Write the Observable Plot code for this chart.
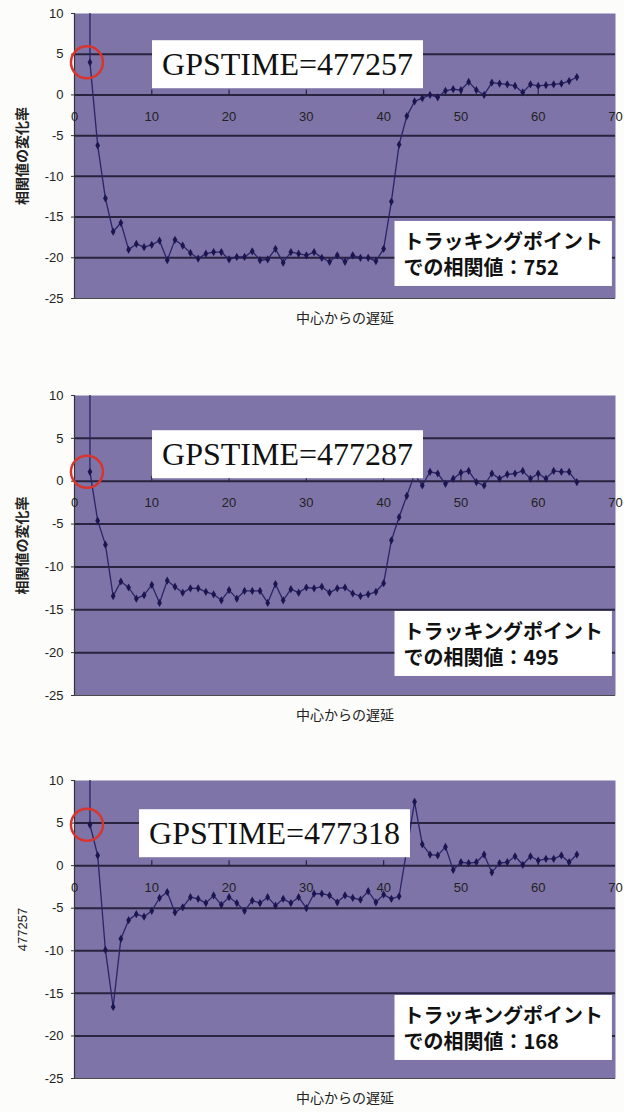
<!DOCTYPE html>
<html>
<head>
<meta charset="utf-8">
<script src="https://cdn.jsdelivr.net/npm/d3@7"></script>
<script src="https://cdn.jsdelivr.net/npm/@observablehq/plot@0.6"></script>
<style>
  body { margin: 0; background: #fcfcfa; width: 624px; }
  #charts svg { display: block; }
</style>
</head>
<body>
<div id="charts"></div>
<script>
// Lag from the centre (x) and the correlation change rate at each lag, one series per GPS time.
const lags = [
   2,  3,  4,  5,  6,  7,  8,  9, 10, 11, 12, 13, 14, 15, 16, 17,
  18, 19, 20, 21, 22, 23, 24, 25, 26, 27, 28, 29, 30, 31, 32, 33,
  34, 35, 36, 37, 38, 39, 40, 41, 42, 43, 44, 45, 46, 47, 48, 49,
  50, 51, 52, 53, 54, 55, 56, 57, 58, 59, 60, 61, 62, 63, 64, 65
];
const change477257 = [
   4.0,  -6.2, -12.7, -16.8, -15.7, -19.0, -18.3, -18.7, -18.4, -17.9, -20.3, -17.8, -18.5, -19.4, -20.1, -19.5,
 -19.3, -19.3, -20.2, -19.9, -19.9, -19.2, -20.3, -20.2, -18.9, -20.6, -19.3, -19.5, -19.7, -19.3, -20.0, -20.5,
 -19.7, -20.5, -19.7, -20.0, -20.0, -20.4, -18.9, -13.1,  -6.1,  -2.6,  -0.8,  -0.4,   0.0,  -0.3,   0.5,   0.7,
   0.6,   1.6,   0.6,   0.0,   1.5,   1.4,   1.3,   1.1,   0.3,   1.3,   1.1,   1.2,   1.3,   1.4,   1.7,   2.2
];
const change477287 = [
   1.1,  -4.6,  -7.4, -13.4, -11.7, -12.4, -13.7, -13.3, -12.1, -14.2, -11.6, -12.3, -13.0, -12.5, -12.5, -12.9,
 -13.2, -13.9, -12.7, -13.7, -12.8, -12.8, -12.8, -14.2, -12.0, -13.9, -12.6, -13.0, -12.4, -12.5, -12.3, -13.0,
 -12.5, -12.4, -13.1, -13.4, -13.2, -12.9, -11.9,  -6.9,  -4.2,  -1.7,   0.8,  -0.5,   1.1,   0.9,  -0.3,   0.3,
   1.0,   1.2,  -0.1,  -0.5,   0.9,   0.3,   0.8,   0.9,   1.2,   0.3,   0.9,   0.3,   1.2,   1.1,   1.1,  -0.1
];
const change477318 = [
   4.8,   1.2,  -9.9, -16.6,  -8.6,  -6.4,  -5.7,  -6.0,  -5.3,  -3.8,  -3.1,  -5.5,  -4.9,  -3.7,  -3.9,  -4.4,
  -3.5,  -4.6,  -3.7,  -4.4,  -5.3,  -4.1,  -4.4,  -3.7,  -4.7,  -3.9,  -4.4,  -3.7,  -5.0,  -3.3,  -3.3,  -3.5,
  -4.3,  -3.5,  -3.8,  -4.0,  -3.0,  -4.3,  -3.4,  -3.9,  -3.6,   1.9,   7.5,   2.5,   1.3,   1.2,   2.2,  -0.5,
   0.4,   0.3,   0.4,   1.3,  -0.8,   0.3,   0.4,   1.1,   0.1,   1.1,   0.6,   0.8,   0.8,   1.2,   0.4,   1.3
];

const gpsTimes = ["477257", "477287", "477318"];
const trackingCorrelation = [752, 495, 168];
const trackingLag = 2;
const yTitles = ["相関値の変化率", "相関値の変化率", "477257"];
const xTitle = "中心からの遅延";
const xTicks = [0, 10, 20, 30, 40, 50, 60, 70];
const yTicks = [-25, -20, -15, -10, -5, 0, 5, 10];
const gridLevels = [-20, -15, -10, -5, 0, 5];

const series = [change477257, change477287, change477318];

// Page layout of the three stacked charts (pixels).
const layout = [
  {height: 372, marginTop: 13, marginBottom: 74, gps: [213, 39], track: [329, 217]},
  {height: 390, marginTop: 23, marginBottom: 67, gps: [213, 47], track: [329, 225]},
  {height: 350, marginTop: 18, marginBottom: 34, gps: [200, 41], track: [329, 224]}
];

const plotBg = "#7e74a8";
const gridColor = "#29233f";
const lineColor = "#2a2468";
const dotColor = "#1c1650";
const ringColor = "#d8352e";
const sans = "'Liberation Sans', Arial, sans-serif";
const cjk = "'Noto Sans CJK JP', sans-serif";
const serif = "'Liberation Serif', 'Times New Roman', serif";

const container = document.getElementById("charts");

series.forEach((values, k) => {
  const L = layout[k];
  const data = lags.map((lag, i) => ({lag, value: values[i]}));
  const track = data.filter(d => d.lag === trackingLag);
  const yMax = yTicks[yTicks.length - 1];
  const yMin = yTicks[0];

  const chart = Plot.plot({
    width: 624,
    height: L.height,
    marginLeft: 74,
    marginRight: 9,
    marginTop: L.marginTop,
    marginBottom: L.marginBottom,
    style: {fontFamily: sans, fontSize: "13px", color: "#222", background: "transparent"},
    x: {domain: [xTicks[0], xTicks[xTicks.length - 1]], axis: null},
    y: {domain: [yMin, yMax], axis: null},
    marks: [
      Plot.frame({fill: plotBg, stroke: null}),
      Plot.ruleY(gridLevels, {stroke: gridColor, strokeWidth: 2}),
      Plot.ruleY([yMin], {stroke: "#4a4a4a", strokeWidth: 1}),
      Plot.ruleX([xTicks[0]], {stroke: "#333", strokeWidth: 1.2}),
      Plot.axisY({ticks: yTicks, tickFormat: d => String(d), tickSize: 3, tickPadding: 8,
                  fontSize: 13, label: null, stroke: "#333"}),
      Plot.ruleX(xTicks.slice(1, -1), {x: d => d, y1: 0, y2: 0, insetTop: -5, stroke: gridColor, strokeWidth: 1.2}),
      Plot.text(xTicks, {x: d => d, y: 0, text: d => String(d), dy: 22, fontSize: 13, fill: "#222"}),
      Plot.text([yTitles[k]], {frameAnchor: "left", textAnchor: "middle", rotate: -90, dx: -52,
                               fontSize: k === 2 ? 13 : 14, fontWeight: k === 2 ? "normal" : "bold",
                               fontFamily: k === 2 ? sans : cjk, fill: "#222"}),
      Plot.text([xTitle], {frameAnchor: "bottom", dy: 24, fontSize: 14, fontFamily: cjk, fill: "#222"}),
      Plot.ruleX(track, {x: "lag", y1: yMax, y2: "value", stroke: lineColor, strokeWidth: 1.3}),
      Plot.line(data, {x: "lag", y: "value", stroke: lineColor, strokeWidth: 1.3}),
      Plot.dot(data, {x: "lag", y: "value", symbol: "diamond", r: 2.5, fill: dotColor, stroke: "none"}),
      Plot.dot(track, {x: "lag", y: "value", r: 16, dx: -3, fill: "none", stroke: ringColor, strokeWidth: 2.5}),
      Plot.text([`GPSTIME=${gpsTimes[k]}`], {
        frameAnchor: "top-left", dx: L.gps[0], dy: L.gps[1], textAnchor: "middle",
        fontFamily: serif, fontSize: 32, fill: "#111", ariaDescription: "gps-box"
      }),
      Plot.text([`トラッキングポイント\nでの相関値：${trackingCorrelation[k]}`], {
        frameAnchor: "top-left", dx: L.track[0], dy: L.track[1], textAnchor: "start",
        lineHeight: 1.3, fontFamily: cjk, fontSize: 20, fontWeight: "bold", fill: "#111",
        ariaDescription: "track-box"
      })
    ]
  });
  container.append(chart);

  // White boxes behind the two annotations, sized to the rendered text.
  const pads = {"gps-box": [10, 6], "track-box": [9, 5]};
  Object.entries(pads).forEach(([name, [px, py]]) => {
    chart.querySelectorAll(`g[aria-description="${name}"] text`).forEach(t => {
      const b = t.getBBox();
      const r = document.createElementNS("http://www.w3.org/2000/svg", "rect");
      r.setAttribute("x", b.x - px);
      r.setAttribute("y", b.y - py);
      r.setAttribute("width", b.width + 2 * px);
      r.setAttribute("height", b.height + 2 * py);
      r.setAttribute("fill", "#ffffff");
      const tr = t.getAttribute("transform");
      if (tr) r.setAttribute("transform", tr);
      t.parentNode.insertBefore(r, t);
    });
  });
});
</script>
</body>
</html>
